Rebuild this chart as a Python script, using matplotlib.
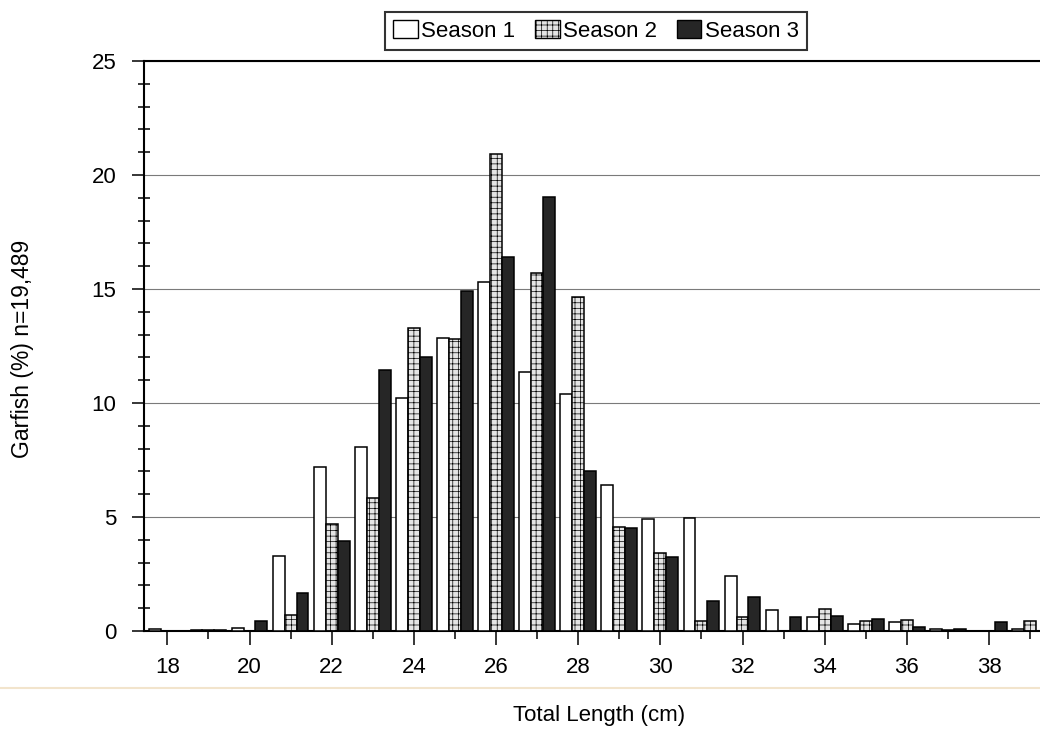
import matplotlib
matplotlib.use('Agg')
import matplotlib.pyplot as plt
import numpy as np
from matplotlib.patches import Patch
from matplotlib.lines import Line2D

plt.rcParams['font.family'] = ['Liberation Sans', 'DejaVu Sans']
plt.rcParams['hatch.linewidth'] = 0.5

lengths = list(range(18, 40))
season1 = [0.08, 0.03, 0.15, 3.3, 7.2, 8.05, 10.2, 12.85, 15.3, 11.35, 10.4,
           6.4, 4.9, 4.95, 2.4, 0.9, 0.6, 0.3, 0.4, 0.1, 0.02, 0.08]
season2 = [0.02, 0.03, 0.02, 0.72, 4.7, 5.85, 13.3, 12.8, 20.9, 15.7, 14.65,
           4.55, 3.4, 0.42, 0.6, 0.02, 0.98, 0.45, 0.5, 0.03, 0.02, 0.44]
season3 = [0.02, 0.05, 0.45, 1.67, 3.95, 11.45, 12.0, 14.9, 16.4, 19.05, 7.0,
           4.5, 3.25, 1.3, 1.48, 0.63, 0.67, 0.53, 0.16, 0.07, 0.38, 0.0]
series_names = ['Season 1', 'Season 2', 'Season 3']
x_tick_labels = [str(v) for v in range(18, 40, 2)]

W, H = 1040, 733
fig = plt.figure(figsize=(W / 100, H / 100), dpi=100)
left_px, right_px, top_px, bot_px = 143.5, 1040, 61, 631
ax = fig.add_axes([left_px / W, (H - bot_px) / H, (right_px - left_px) / W, (bot_px - top_px) / H])

x = np.array(lengths, dtype=float)
bw = 0.29
edge_lw = 1.1
ax.bar(x - bw, season1, bw, facecolor='white', edgecolor='black', linewidth=edge_lw, zorder=3)
ax.bar(x, season2, bw, facecolor='#e4e4e4', edgecolor='black', hatch='+++', linewidth=edge_lw, zorder=3)
ax.bar(x + bw, season3, bw, facecolor='#262626', edgecolor='black', linewidth=edge_lw, zorder=3)

ax.set_xlim(17.42, 39.24)
ax.set_ylim(0, 25)
ax.set_xticks(list(range(18, 40, 2)))
ax.set_xticklabels(x_tick_labels)
ax.set_xticks(list(range(19, 40, 2)), minor=True)
ax.set_yticks([0, 5, 10, 15, 20, 25])
ax.set_yticks([v for v in range(0, 26) if v % 5 != 0], minor=True)

ax.tick_params(axis='x', which='major', direction='out', length=10, width=1.1, pad=9, labelsize=16)
ax.tick_params(axis='x', which='minor', direction='out', length=5.5, width=1.1)
ax.tick_params(axis='y', which='major', direction='out', length=8.6, width=1.1, pad=11, labelsize=16)
ax.tick_params(axis='y', which='minor', direction='inout', length=8.6, width=1.1)

ax.yaxis.grid(True, which='major', color='#7a7a7a', linewidth=0.8, zorder=0)
ax.set_axisbelow(True)
for s in ['left', 'bottom', 'top']:
    ax.spines[s].set_linewidth(1.5)
    ax.spines[s].set_color('black')
ax.spines['right'].set_visible(False)

fig.text(23 / W, 1 - 349 / H, 'Garfish (%) n=19,489', rotation=90, ha='center', va='center', fontsize=16.5)
fig.text(599 / W, 1 - 716 / H, 'Total Length (cm)', ha='center', va='center', fontsize=16)

handles = [Patch(facecolor='white', edgecolor='black', linewidth=1.0),
           Patch(facecolor='#e4e4e4', edgecolor='black', hatch='+++', linewidth=1.0),
           Patch(facecolor='#262626', edgecolor='black', linewidth=1.0)]
leg = fig.legend(handles, series_names, loc='center', bbox_to_anchor=(596 / W, 1 - 31 / H),
                 ncol=3, frameon=True, fancybox=False, fontsize=16, handlelength=1.1, handleheight=0.9,
                 handletextpad=0.15, columnspacing=0.9, borderpad=0.35, borderaxespad=0)
leg.get_frame().set_edgecolor('black')
leg.get_frame().set_linewidth(1.5)

fig.add_artist(Line2D([0, 1], [1 - 688 / H, 1 - 688 / H], transform=fig.transFigure,
                      color='#f2e4cc', linewidth=1.5))

fig.savefig('out.png', dpi=100)
